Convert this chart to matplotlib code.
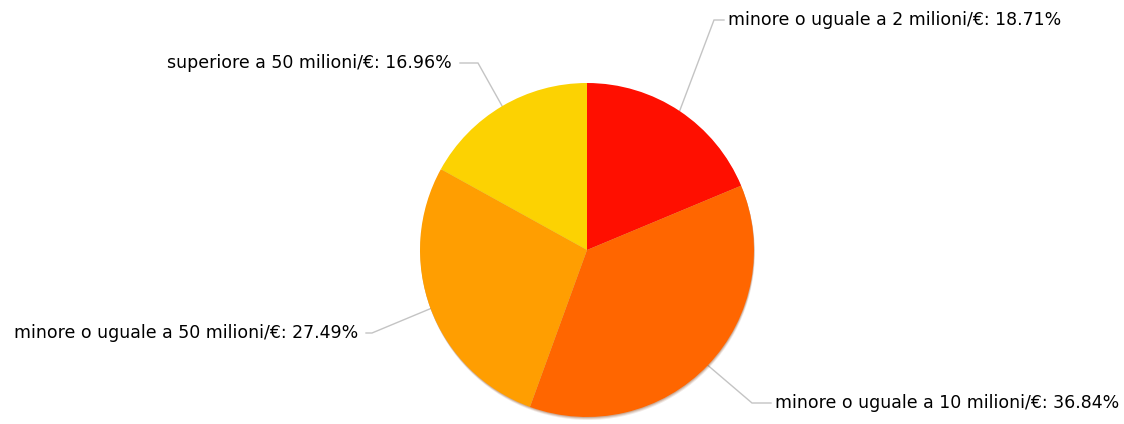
import numpy as np
import matplotlib
matplotlib.use("Agg")
import matplotlib.pyplot as plt
from matplotlib.patches import Circle

# Share of entities by revenue band
categories = [
    "minore o uguale a 2 milioni/€",
    "minore o uguale a 10 milioni/€",
    "minore o uguale a 50 milioni/€",
    "superiore a 50 milioni/€",
]
shares = [18.71, 36.84, 27.49, 16.96]
colors = ["#FF0F00", "#FF6600", "#FF9E01", "#FCD202"]

W, H = 1124, 424
fig = plt.figure(figsize=(W / 100, H / 100), dpi=100)
ax = fig.add_axes([0, 0, 1, 1])

cx, cy, r = 587, H - 250, 167

# soft drop shadow under the pie
for off, a in [(3.0, 0.10), (2.0, 0.15), (1.0, 0.2)]:
    ax.add_patch(Circle((cx + off * 0.3, cy - off), r, color="#7a3000", alpha=a, lw=0, zorder=1))

wedges, _ = ax.pie(shares, colors=colors, startangle=90, counterclock=False,
                   center=(cx, cy), radius=r, frame=True,
                   wedgeprops=dict(linewidth=0, zorder=2))
ax.set_xlim(0, W)
ax.set_ylim(0, H)
ax.axis("off")

# label layout: elbow point, label anchor, alignment
layout = [
    ((714, 20), (728, 20), "left"),
    ((752, 403), (775, 403), "left"),
    ((372, 333), (358, 333), "right"),
    ((478, 63), (452, 63), "right"),
]

for w, cat, val, (elbow, anchor, ha) in zip(wedges, categories, shares, layout):
    mid = np.deg2rad((w.theta1 + w.theta2) / 2)
    px, py = cx + r * np.cos(mid), cy + r * np.sin(mid)
    ex, ey = elbow[0], H - elbow[1]
    hx = anchor[0] - 4 if ha == "left" else anchor[0] + 8
    ax.plot([px, ex, hx], [py, ey, ey], color="#c4c4c4", lw=1, zorder=0,
            solid_joinstyle="miter")
    ax.text(anchor[0], H - anchor[1], f"{cat}: {val:.2f}%", ha=ha, va="center",
            fontsize=12.5, family="DejaVu Sans", color="#000000")

fig.savefig("out.png", dpi=100)
